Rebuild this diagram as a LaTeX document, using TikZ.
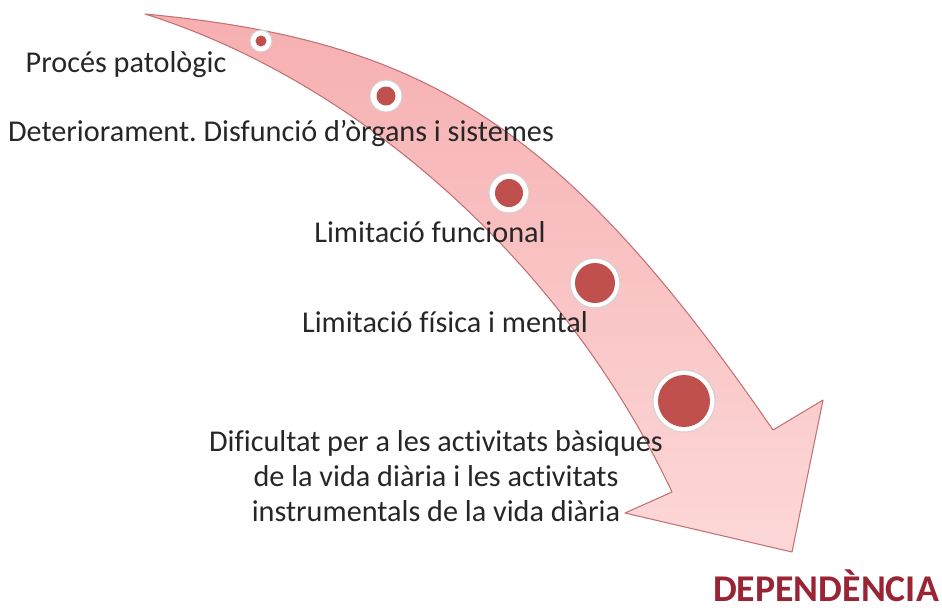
\documentclass[tikz,border=0pt]{standalone}
\usepackage{fontspec}
\setmainfont{Carlito}[Ligatures=NoCommon]
\usepackage{tikz}
\usepackage{xcolor}
\usetikzlibrary{positioning, calc}
\frenchspacing

\definecolor{bandtop}{RGB}{246,175,177}
\definecolor{bandbot}{RGB}{253,216,216}
\definecolor{bandline}{RGB}{196,112,114}
\definecolor{beadred}{RGB}{192,80,77}
\definecolor{deptext}{RGB}{152,36,52}

\tikzset{
  ring/.style={circle, fill=white, draw=black!18, line width=0.6pt, inner sep=0pt},
  bead/.style={circle, fill=beadred, inner sep=0pt},
  stage/.style={font=\fontsize{17.2}{20}\selectfont, text=black!85, inner sep=0pt}
}

\begin{document}
\begin{tikzpicture}[x=0.02cm, y=-0.02cm]
        \useasboundingbox (0,0) rectangle (942,610);
        % the curved band with its head
        \draw[top color=bandtop, bottom color=bandbot, draw=bandline, line width=0.6pt, line join=round]
            (145,14) .. controls (420,40) and (560,120) .. (773,430)
            -- (823,400) -- (792,552) -- (625,513) -- (672,492)
            .. controls (570,275) and (370,85) .. (145,14) -- cycle;
        % beads
        \node[ring, minimum size=0.44cm] (r1) at (261,41) {};
        \node[bead, minimum size=0.22cm] (b1) at (r1) {};
        \node[ring, minimum size=0.64cm] (r2) at (386,96) {};
        \node[bead, minimum size=0.38cm] (b2) at (r2) {};
        \node[ring, minimum size=0.80cm] (r3) at (509,193) {};
        \node[bead, minimum size=0.56cm] (b3) at (r3) {};
        \node[ring, minimum size=1.00cm] (r4) at (595,283) {};
        \node[bead, minimum size=0.80cm] (b4) at (r4) {};
        \node[ring, minimum size=1.24cm] (r5) at (684,401) {};
        \node[bead, minimum size=1.04cm] (b5) at (r5) {};
        % labels
        \node[stage, anchor=base] (s1) at (126,72) {Procés patològic};
        \node[stage, anchor=base] (s2) at (281,141) {Deteriorament. Disfunció d’òrgans i sistemes};
        \node[stage, anchor=base] (s3) at (430,242) {Limitació funcional};
        \node[stage, anchor=base] (s4) at (445,332) {Limitació física i mental};
        \node[stage, align=center, font=\fontsize{17.2}{19.9}\selectfont] (s5) at (436,476)
            {Dificultat per a les activitats bàsiques\\de la vida diària i les activitats\\instrumentals de la vida diària};
        \node[anchor=base, inner sep=0pt, text=deptext, font=\fontsize{21.5}{24}\selectfont\bfseries] (dep) at (826,601) {DEPENDÈNCIA};
    \end{tikzpicture}
\end{document}
